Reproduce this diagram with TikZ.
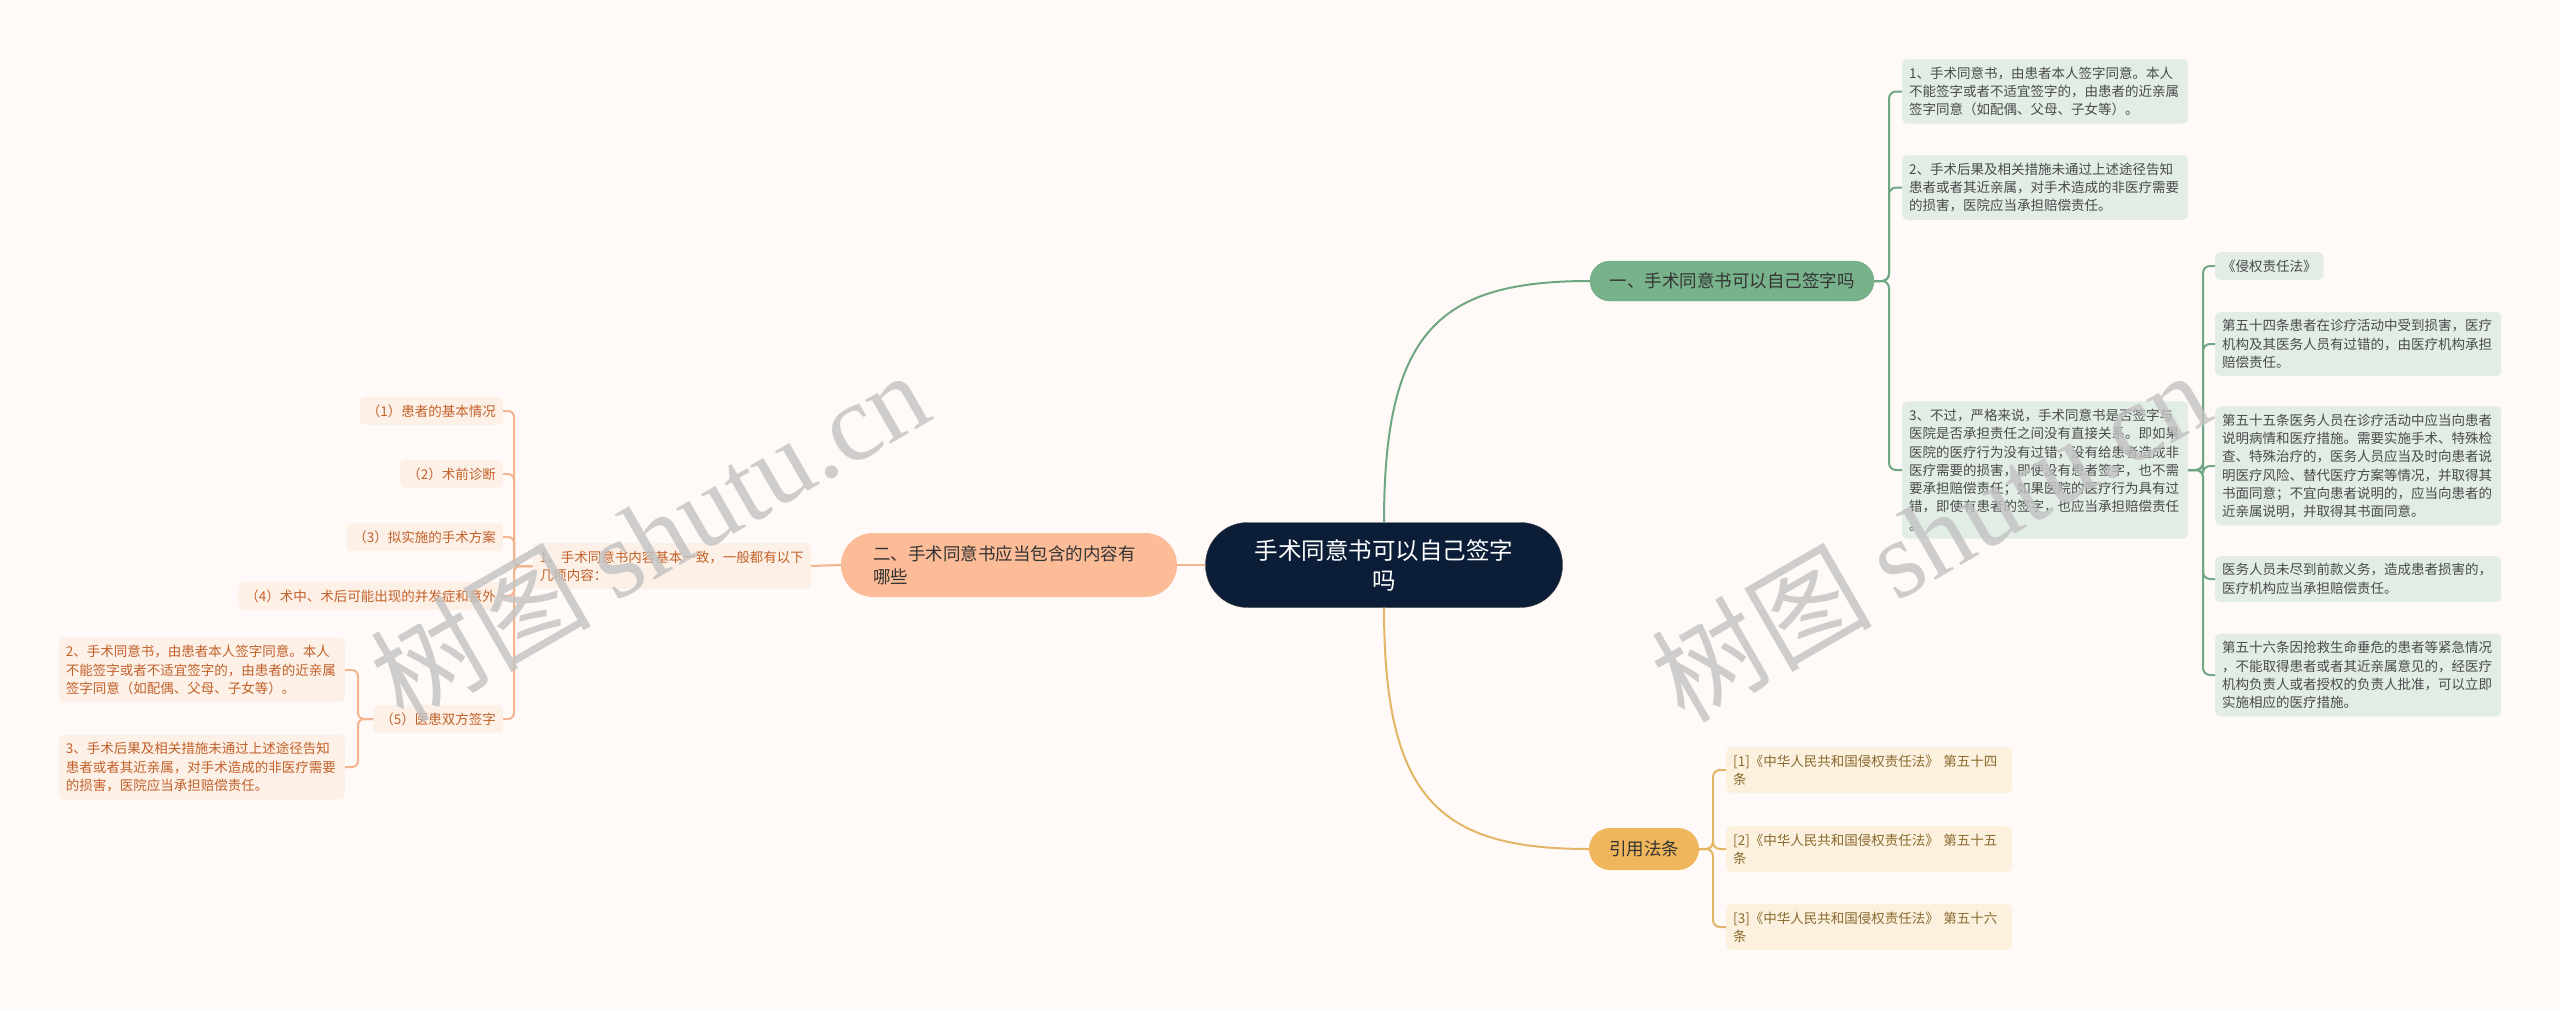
\documentclass[tikz,border=0pt]{standalone}
\usepackage{fontspec}
\setmainfont{Noto Sans CJK SC}
\newfontfamily\wmlatin{Liberation Serif}
\definecolor{bgcol}{HTML}{FFFAF7}
\definecolor{rootcol}{HTML}{0C1E37}
\definecolor{gpillcol}{HTML}{78B28B}
\definecolor{glinecol}{HTML}{6FA683}
\definecolor{gboxcol}{HTML}{E2EEE5}
\definecolor{gtextcol}{HTML}{4A4A4A}
\definecolor{opillcol}{HTML}{FCBC98}
\definecolor{olinecol}{HTML}{F3B48F}
\definecolor{oboxcol}{HTML}{FDF0E7}
\definecolor{otextcol}{HTML}{C2612A}
\definecolor{ypillcol}{HTML}{EFB65B}
\definecolor{ylinecol}{HTML}{E3B667}
\definecolor{yboxcol}{HTML}{FBF1DE}
\definecolor{ytextcol}{HTML}{8B6A2E}
\newcommand\txtsmall{\fontsize{13.5}{18.3}\selectfont}
\newcommand\txtmid{\fontsize{17.5}{23}\selectfont}
\newcommand\txtbig{\fontsize{23.5}{30}\selectfont}
\tikzset{
  px/.style={x=1pt, y=-1pt},
  rootnode/.style={fill=rootcol, draw=black!70, text=white, font=\txtbig, align=center,
    minimum width=357pt, minimum height=85pt, rounded corners=42pt},
  gpill/.style={fill=gpillcol, draw=glinecol, text=black!80, font=\txtmid,
    minimum width=284pt, minimum height=40pt, rounded corners=20pt},
  opill/.style={fill=opillcol, text=black!80, font=\txtmid, align=left, text width=272pt,
    inner xsep=32pt, minimum height=64pt, rounded corners=32pt},
  ypill/.style={fill=ypillcol, text=black!80, font=\txtmid, inner xsep=20pt,
    minimum height=42pt, rounded corners=21pt},
  % leaf boxes
  leaf/.style={font=\txtsmall, align=left, inner xsep=7pt, inner ysep=7.5pt, rounded corners=5pt},
  gbox/.style={leaf, fill=gboxcol, text=gtextcol},
  obox/.style={leaf, fill=oboxcol, text=otextcol},
  ybox/.style={leaf, fill=yboxcol, text=ytextcol},
  wide/.style={text width=272pt},
  % connectors
  gline/.style={glinecol, line width=2pt, rounded corners=7pt},
  oline/.style={olinecol, line width=2pt, rounded corners=6pt},
  yline/.style={ylinecol, line width=2pt, rounded corners=7pt},
  wmark/.style={text=black!24, text opacity=0.8, rotate=30, font=\fontsize{110}{120}\selectfont},
}
\begin{document}
\begin{tikzpicture}[px]
  \fill[bgcol] (0,0) rectangle (2560,1010);
  \useasboundingbox (0,0) rectangle (2560,1010);
  % centre and main branches
  \node[rootnode] (root) at (1384,565) {手术同意书可以自己签字\\吗};
  \node[gpill] (gb) at (1732,281) {一、手术同意书可以自己签字吗};
  \node[opill] (ob) at (1009,565) {二、手术同意书应当包含的内容有\\哪些};
  \node[ypill] (yb) at (1644,849) {引用法条};
  \draw[gline] (root.north) .. controls (1384,330) and (1440,281) .. (gb.west);
  \draw[yline] (root.south) .. controls (1384,800) and (1440,849) .. (yb.west);
  \draw[oline] (root.west) -- (ob.east);
  % branch one
  \node[gbox, wide, anchor=west] (g1) at (1902,91.5) {1、手术同意书，由患者本人签字同意。本人\\不能签字或者不适宜签字的，由患者的近亲属\\签字同意（如配偶、父母、子女等）。};
  \node[gbox, wide, anchor=west] (g2) at (1902,187.5) {2、手术后果及相关措施未通过上述途径告知\\患者或者其近亲属，对手术造成的非医疗需要\\的损害，医院应当承担赔偿责任。};
  \node[gbox, wide, anchor=west] (g3) at (1902,470) {3、不过，严格来说，手术同意书是否签字与\\医院是否承担责任之间没有直接关系。即如果\\医院的医疗行为没有过错，没有给患者造成非\\医疗需要的损害，即使没有患者签字，也不需\\要承担赔偿责任；如果医院的医疗行为具有过\\错，即使有患者的签字，也应当承担赔偿责任\\。};
  \coordinate (gjoin) at (1889,281);
  \draw[gline] (gb.east) -- (gjoin) |- (g1.west);
  \draw[gline] (gb.east) -- (gjoin) |- (g2.west);
  \draw[gline] (gb.east) -- (gjoin) |- (g3.west);
  % law articles under point 3
  \node[gbox, anchor=west] (l0) at (2215,266) {《侵权责任法》};
  \node[gbox, wide, anchor=west] (l1) at (2215,344) {第五十四条患者在诊疗活动中受到损害，医疗\\机构及其医务人员有过错的，由医疗机构承担\\赔偿责任。};
  \node[gbox, wide, anchor=west] (l2) at (2215,466) {第五十五条医务人员在诊疗活动中应当向患者\\说明病情和医疗措施。需要实施手术、特殊检\\查、特殊治疗的，医务人员应当及时向患者说\\明医疗风险、替代医疗方案等情况，并取得其\\书面同意；不宜向患者说明的，应当向患者的\\近亲属说明，并取得其书面同意。};
  \node[gbox, wide, anchor=west] (l3) at (2215,579) {医务人员未尽到前款义务，造成患者损害的，\\医疗机构应当承担赔偿责任。};
  \node[gbox, wide, anchor=west] (l4) at (2215,675) {第五十六条因抢救生命垂危的患者等紧急情况\\，不能取得患者或者其近亲属意见的，经医疗\\机构负责人或者授权的负责人批准，可以立即\\实施相应的医疗措施。};
  \coordinate (ljoin) at (2203,470);
  \draw[gline] (g3.east) -- (ljoin) |- (l0.west);
  \draw[gline] (g3.east) -- (ljoin) |- (l1.west);
  \draw[gline] (g3.east) -- (ljoin) |- (l2.west);
  \draw[gline] (g3.east) -- (ljoin) |- (l3.west);
  \draw[gline] (g3.east) -- (ljoin) |- (l4.west);
  % cited articles
  \node[ybox, wide, anchor=west] (y1) at (1726,770) {[1]《中华人民共和国侵权责任法》 第五十四\\条};
  \node[ybox, wide, anchor=west] (y2) at (1726,849) {[2]《中华人民共和国侵权责任法》 第五十五\\条};
  \node[ybox, wide, anchor=west] (y3) at (1726,927) {[3]《中华人民共和国侵权责任法》 第五十六\\条};
  \coordinate (yjoin) at (1713,849);
  \draw[yline] (yb.east) -- (yjoin) |- (y1.west);
  \draw[yline] (yb.east) -- (yjoin) |- (y2.west);
  \draw[yline] (yb.east) -- (yjoin) |- (y3.west);
  % branch two
  \node[obox, anchor=east] (o1) at (811,566) {1、手术同意书内容基本一致，一般都有以下\\几项内容：};
  \draw[oline] (ob.west) -- (o1.east);
  \node[obox, anchor=east] (oc1) at (503,411) {（1）患者的基本情况};
  \node[obox, anchor=east] (oc2) at (503,474) {（2）术前诊断};
  \node[obox, anchor=east] (oc3) at (503,537) {（3）拟实施的手术方案};
  \node[obox, anchor=east] (oc4) at (503,596) {（4）术中、术后可能出现的并发症和意外};
  \node[obox, anchor=east] (oc5) at (503,719) {（5）医患双方签字};
  \coordinate (ojoin) at (514,566);
  \draw[oline] (o1.west) -- (ojoin) |- (oc1.east);
  \draw[oline] (o1.west) -- (ojoin) |- (oc2.east);
  \draw[oline] (o1.west) -- (ojoin) |- (oc3.east);
  \draw[oline] (o1.west) -- (ojoin) |- (oc4.east);
  \draw[oline] (o1.west) -- (ojoin) |- (oc5.east);
  \node[obox, wide, anchor=east] (o5a) at (345,670) {2、手术同意书，由患者本人签字同意。本人\\不能签字或者不适宜签字的，由患者的近亲属\\签字同意（如配偶、父母、子女等）。};
  \node[obox, wide, anchor=east] (o5b) at (345,767) {3、手术后果及相关措施未通过上述途径告知\\患者或者其近亲属，对手术造成的非医疗需要\\的损害，医院应当承担赔偿责任。};
  \coordinate (o5join) at (358,719);
  \draw[oline] (oc5.west) -- (o5join) |- (o5a.east);
  \draw[oline] (oc5.west) -- (o5join) |- (o5b.east);
  % watermarks
  \node[wmark] (wm1) at (649,535) {树图 {\wmlatin shutu.cn}};
  \node[wmark] (wm2) at (1930,535) {树图 {\wmlatin shutu.cn}};
\end{tikzpicture}
\end{document}
